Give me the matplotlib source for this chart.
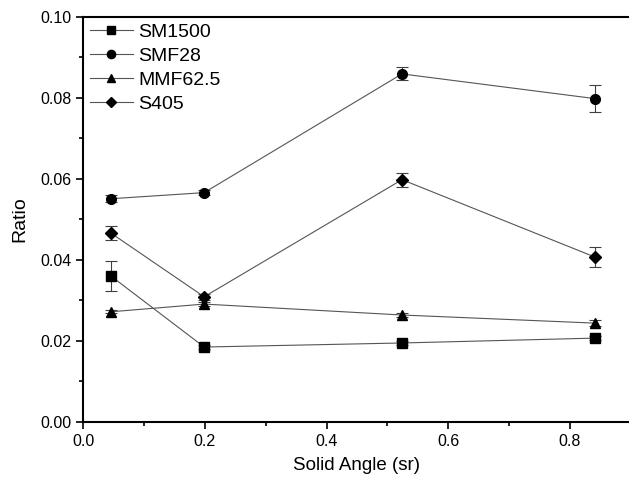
import matplotlib
matplotlib.use("Agg")
import matplotlib.pyplot as plt
from matplotlib.ticker import MultipleLocator, FormatStrFormatter

plt.rcParams['font.family'] = ['Liberation Sans', 'DejaVu Sans']

angle = [0.046, 0.199, 0.524, 0.841]

sm1500 = [0.0360, 0.0185, 0.0195, 0.0207]
sm1500_err = [0.0037, 0.0004, 0.0004, 0.0004]
smf28 = [0.0551, 0.0566, 0.0859, 0.0798]
smf28_err = [0.0008, 0.0007, 0.0016, 0.0034]
mmf625 = [0.0272, 0.0291, 0.0264, 0.0244]
mmf625_err = [0.0004, 0.0005, 0.0004, 0.0008]
s405 = [0.0466, 0.0309, 0.0598, 0.0407]
s405_err = [0.0018, 0.0008, 0.0017, 0.0024]

fig = plt.figure(figsize=(6.29, 4.79), dpi=100)
ax = fig.add_axes([0.132, 0.119, 0.871, 0.846])

series = [("SM1500", sm1500, sm1500_err, "s", 6.5),
          ("SMF28", smf28, smf28_err, "o", 7),
          ("MMF62.5", mmf625, mmf625_err, "^", 7.5),
          ("S405", s405, s405_err, "D", 6.5)]

handles = []
for name, vals, err, mk, size in series:
    c = ax.errorbar(angle, vals, yerr=err, label=name, color="#555555", lw=0.8,
                    marker=mk, ms=size, mfc="black", mec="black",
                    ecolor="#404040", elinewidth=0.8, capsize=4.5, capthick=0.8)
    handles.append(c[0])

ax.set_xlim(0, 0.9)
ax.set_ylim(0, 0.10)
ax.xaxis.set_major_locator(MultipleLocator(0.2))
ax.xaxis.set_minor_locator(MultipleLocator(0.1))
ax.yaxis.set_major_locator(MultipleLocator(0.02))
ax.yaxis.set_minor_locator(MultipleLocator(0.01))
ax.xaxis.set_major_formatter(FormatStrFormatter('%.1f'))
ax.yaxis.set_major_formatter(FormatStrFormatter('%.2f'))
ax.tick_params(which='major', direction='out', length=5, width=1.2, labelsize=11.5)
ax.tick_params(which='minor', direction='out', length=3, width=1.2)
for s in ax.spines.values():
    s.set_linewidth(1.5)
ax.spines['right'].set_visible(False)

ax.set_xlabel("Solid Angle (sr)", fontsize=13.5, labelpad=6)
ax.set_ylabel("Ratio", fontsize=14, labelpad=8)

ax.legend(handles=handles, labels=[s[0] for s in series],
          loc="upper left", frameon=False, fontsize=14, handlelength=2.2,
          borderaxespad=0.05, labelspacing=0.32, handletextpad=0.3,
          markerscale=0.85, borderpad=0.3)

fig.savefig("out.png", dpi=100)
